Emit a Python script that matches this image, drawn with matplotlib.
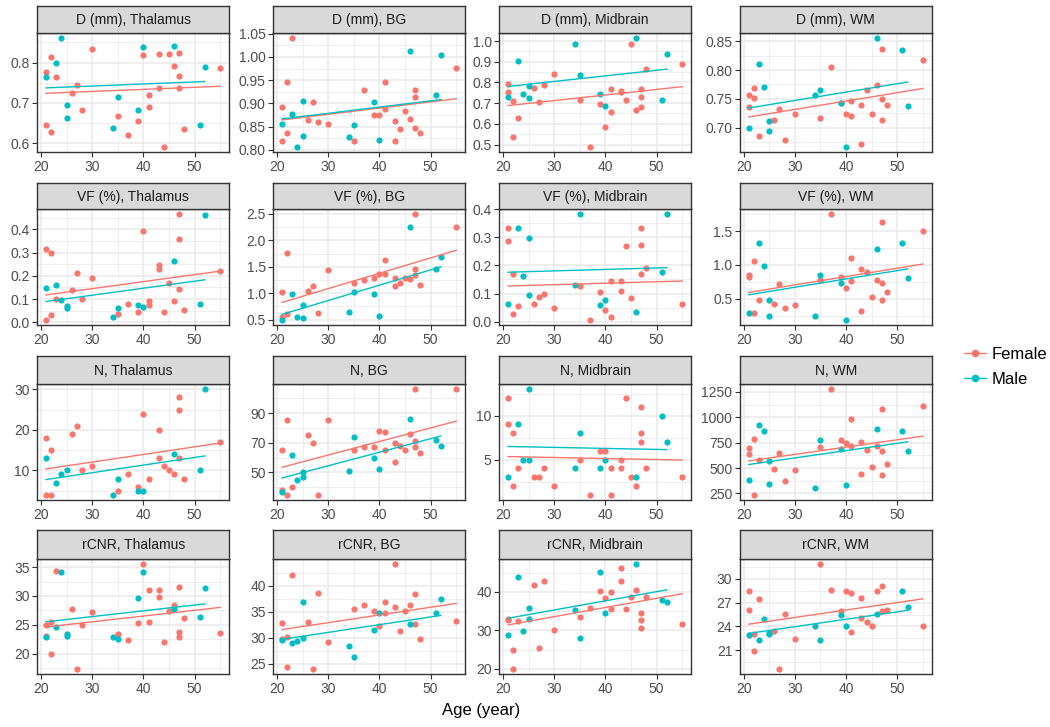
import numpy as np
import matplotlib
matplotlib.use("Agg")
import matplotlib.pyplot as plt
from matplotlib.lines import Line2D

plt.rcParams['font.family'] = ['Liberation Sans', 'DejaVu Sans']

FEMALE_AGE = [21, 21, 22, 22, 23, 26, 27, 28, 30, 35, 37, 39, 40, 41, 41, 43, 43, 44, 45, 46, 47, 47, 47, 48, 55]
MALE_AGE = [21, 23, 24, 25, 25, 34, 35, 39, 40, 46, 51, 52]
nan = np.nan

MEASURES = ["D (mm)", "VF (%)", "N", "rCNR"]
REGIONS = ["Thalamus", "BG", "Midbrain", "WM"]

# row 1: D (mm)
d_thal_f = [0.777, 0.645, 0.815, 0.627, 0.765, 0.724, 0.745, 0.683, 0.834, 0.668, 0.621, 0.656, 0.818,
            0.721, 0.689, 0.822, 0.738, 0.592, 0.822, 0.792, 0.824, 0.766, 0.736, 0.636, 0.786]
d_thal_m = [0.765, 0.798, 0.860, 0.695, 0.662, 0.639, 0.715, 0.683, 0.839, 0.842, 0.645, 0.789]
d_bg_f = [0.893, 0.820, 0.947, 0.837, 1.040, 0.865, 0.904, 0.861, 0.856, 0.820, 0.928, 0.876, 0.876,
          0.947, 0.887, 0.863, 0.820, 0.845, 0.884, 0.866, 0.928, 0.914, 0.848, 0.837, 0.976]
d_bg_m = [0.856, 0.878, 0.807, 0.906, 0.830, 0.827, 0.853, 0.904, 0.822, 1.012, 0.919, 1.004]
d_mid_f = [0.792, 0.756, 0.711, 0.538, 0.630, 0.772, 0.705, 0.789, 0.843, 0.715, 0.490, 0.698, 0.584,
           0.767, 0.659, 0.760, 0.755, 0.715, 0.984, 0.666, 0.767, 0.731, 0.682, 0.864, 0.889]
d_mid_m = [0.731, 0.905, 0.744, 0.785, 0.726, 0.985, 0.836, 0.744, 0.685, 1.013, 0.715, 0.939]
d_wm_f = [0.757, 0.735, 0.768, 0.751, 0.686, 0.714, 0.732, 0.678, 0.723, 0.717, 0.806, 0.743, 0.723,
          0.747, 0.721, 0.740, 0.672, 0.766, 0.723, 0.774, 0.836, 0.750, 0.714, 0.740, 0.818]
d_wm_m = [0.700, 0.810, 0.770, 0.711, 0.694, 0.757, 0.766, 0.743, 0.667, 0.855, 0.835, 0.738]

# row 2: VF (%)
vf_thal_f = [0.317, 0.011, 0.299, 0.031, 0.099, 0.141, 0.211, 0.099, 0.191, 0.037, 0.077, 0.043, 0.391,
             0.091, 0.073, 0.247, 0.229, 0.043, 0.167, 0.091, 0.467, 0.357, 0.143, 0.053, 0.219]
vf_thal_m = [0.147, 0.161, 0.097, 0.070, 0.061, 0.023, 0.063, 0.073, 0.067, 0.263, 0.077, 0.461]
vf_bg_f = [1.028, 0.557, 1.758, 0.613, nan, 1.047, 1.142, 0.632, 1.431, 1.186, 1.255, 1.280, 1.368,
           1.626, 1.355, 1.292, 1.142, 1.186, 1.292, 1.267, 2.500, 1.456, 1.343, 1.160, 2.242]
vf_bg_m = [0.500, 0.984, 0.544, 0.777, 0.525, 0.638, 1.028, 0.984, 0.569, 2.242, 1.456, 1.689]
vf_mid_f = [0.333, 0.288, 0.168, 0.026, 0.055, 0.064, 0.088, 0.097, 0.047, 0.126, 0.007, 0.105, 0.040,
            0.143, 0.015, 0.143, 0.110, 0.267, 0.085, nan, 0.333, 0.271, 0.168, 0.189, 0.064]
vf_mid_m = [0.064, 0.333, 0.163, 0.296, 0.093, 0.130, 0.383, 0.060, 0.077, 0.035, 0.176, 0.382]
vf_wm_f = [0.845, 0.820, 1.052, 0.293, 0.480, 0.426, 0.722, 0.362, 0.411, 0.771, 1.756, 0.825, 0.653,
           1.106, 0.756, 0.933, 0.323, 0.899, 0.530, 0.776, 1.638, 0.736, 0.480, 0.599, 1.500]
vf_wm_m = [0.293, 1.328, 0.978, 0.480, 0.244, 0.244, 0.845, 0.736, 0.190, 1.239, 1.328, 0.810]

# row 3: N
n_thal_f = [18, 4, 15, 4, nan, 19, 21, 10, 11, 5, 9, 6, 24, 8, nan, 20, 13, 11, 10, 9, 28, 25, 13, 8, 17]
n_thal_m = [13, 7, 9, 10, nan, 4, 8, 5, 5, 14, 10, 30]
n_bg_f = [65, 38, 85, 35, 40, 75, 70, 35, 85, 65, 67, 67, 78, 77, 65, 70, 57, 68, 65, 76, 106, 71, 67, 63, 106]
n_bg_m = [37, 62, 45, 50, 47, 51, 74, 60, 52, 86, 72, 68]
n_mid_f = [12, 9, 8, 2, 4, 3, 3, 4, 2, 5, 1, 6, 6, 4, 1, 5, 4, 12, 3, 2, 11, 8, 7, 4, 3]
n_mid_m = [3, 9, 5, 13, 5, 4, 8, 4, 5, 3, 10, 7]
n_wm_f = [693, 634, 784, 237, 579, 491, 647, 374, 478, 706, 1276, 774, 745,
          980, 722, 761, 442, 680, 514, 722, 1081, 670, 432, 537, 1116]
n_wm_m = [387, 921, 862, 566, 341, 305, 774, 690, 328, 885, 862, 670]

# row 4: rCNR
rcnr_thal_f = [24.9, 23.0, 25.5, 20.0, 34.3, 27.7, 17.4, 25.0, 27.2, 23.4, 22.3, 25.3, 35.5,
               31.1, 25.5, 31.1, 29.8, 22.1, 27.4, 28.5, 31.6, 23.7, 22.9, 26.2, 23.6]
rcnr_thal_m = [22.9, 24.6, 34.1, 23.4, 23.1, 22.9, 22.5, 29.6, 34.1, 27.7, 26.4, 31.4]
rcnr_bg_f = [32.8, 29.8, 30.1, 24.4, 42.1, 33.0, 24.0, 38.5, 29.1, 35.4, 36.3, 35.2, 32.3,
             36.8, 34.7, 44.1, 35.9, 31.2, 35.2, 36.3, 38.3, 32.6, nan, 29.8, 33.2]
rcnr_bg_m = [29.5, 28.9, 29.3, 36.8, 30.0, 28.4, 26.2, 31.4, 34.8, 32.6, 34.8, 37.4]
rcnr_mid_f = [33.0, 32.6, 24.9, 20.0, 32.4, 41.7, 25.5, 42.9, 30.0, 33.6, 35.8, 40.3, 38.5,
              39.9, 35.5, 46.3, 42.9, 35.5, 38.8, 40.5, 34.6, 32.8, 30.6, 38.8, 31.6]
rcnr_mid_m = [28.8, 43.9, 29.8, 35.7, 33.0, 35.4, 27.9, 45.1, 34.6, 47.2, 37.9, 37.3]
rcnr_wm_f = [28.4, 26.1, 23.1, 20.9, 27.4, 23.4, 18.7, 25.6, 22.4, 31.8, 28.6, 25.9, 28.5,
             28.2, 23.3, 27.6, 25.0, 24.5, 24.1, 28.5, 29.1, 25.9, nan, 26.1, 24.1]
rcnr_wm_m = [22.9, 22.3, 24.9, 23.2, 23.1, 24.1, 22.3, 25.5, 24.1, 25.6, 28.4, 26.4]

# y tick labels per panel (row by row)
Y_TICKS = [
    ["0.6", "0.7", "0.8"],
    ["0.80", "0.85", "0.90", "0.95", "1.00", "1.05"],
    ["0.5", "0.6", "0.7", "0.8", "0.9", "1.0"],
    ["0.70", "0.75", "0.80", "0.85"],
    ["0.0", "0.1", "0.2", "0.3", "0.4"],
    ["0.5", "1.0", "1.5", "2.0", "2.5"],
    ["0.0", "0.1", "0.2", "0.3", "0.4"],
    ["0.5", "1.0", "1.5"],
    ["10", "20", "30"],
    ["50", "70", "90"],
    ["5", "10"],
    ["250", "500", "750", "1000", "1250"],
    ["20", "25", "30", "35"],
    ["25", "30", "35", "40"],
    ["20", "30", "40"],
    ["18", "21", "24", "27", "30"],
]
X_TICKS = [20, 30, 40, 50]

FEMALE_VALUES = [d_thal_f, d_bg_f, d_mid_f, d_wm_f, vf_thal_f, vf_bg_f, vf_mid_f, vf_wm_f,
                 n_thal_f, n_bg_f, n_mid_f, n_wm_f, rcnr_thal_f, rcnr_bg_f, rcnr_mid_f, rcnr_wm_f]
MALE_VALUES = [d_thal_m, d_bg_m, d_mid_m, d_wm_m, vf_thal_m, vf_bg_m, vf_mid_m, vf_wm_m,
               n_thal_m, n_bg_m, n_mid_m, n_wm_m, rcnr_thal_m, rcnr_bg_m, rcnr_mid_m, rcnr_wm_m]

FEMALE_COLOR = "#F8766D"
MALE_COLOR = "#00BFC4"
GRID = "#EBEBEB"
DARK = "#333333"

W, H = 1050, 727
fig = plt.figure(figsize=(W / 100, H / 100), dpi=100)

col_left = [37.3, 273.3, 499.3, 740.0]
col_width = 191.7
strip_top = [6, 183, 356, 530]
strip_bot = [33, 208.5, 384, 559]
panel_bot = [152, 325, 500, 674]


def minor_between(major, lo, hi):
    step = major[1] - major[0]
    vals = [major[0] - step / 2] + [m + step / 2 for m in major]
    return [v for v in vals if lo <= v <= hi]


def sex_age_fit(fvals, mvals):
    # age + sex model: common slope, separate intercepts
    x = np.concatenate([FEMALE_AGE, MALE_AGE]).astype(float)
    y = np.concatenate([fvals, mvals]).astype(float)
    male = np.concatenate([np.zeros(len(FEMALE_AGE)), np.ones(len(MALE_AGE))])
    ok = ~np.isnan(y)
    X = np.column_stack([np.ones(ok.sum()), x[ok], male[ok]])
    coef = np.linalg.lstsq(X, y[ok], rcond=None)[0]
    return coef


def draw_line(ax, ages, vals, b0, b1, color):
    x = np.array(ages, dtype=float)
    ok = ~np.isnan(np.array(vals, dtype=float))
    xs = np.linspace(x[ok].min(), x[ok].max(), 80)
    ax.plot(xs, b0 + b1 * xs, color=color, lw=1.0, zorder=3)


for i in range(16):
    r, c = divmod(i, 4)
    l = col_left[c] / W
    b = 1 - panel_bot[r] / H
    h = (panel_bot[r] - strip_bot[r]) / H
    ax = fig.add_axes([l, b, col_width / W, h])

    ax.scatter(FEMALE_AGE, FEMALE_VALUES[i], s=20, color=FEMALE_COLOR, linewidths=0, zorder=2)
    ax.scatter(MALE_AGE, MALE_VALUES[i], s=20, color=MALE_COLOR, linewidths=0, zorder=2)
    a0, a1, am = sex_age_fit(FEMALE_VALUES[i], MALE_VALUES[i])
    draw_line(ax, FEMALE_AGE, FEMALE_VALUES[i], a0, a1, FEMALE_COLOR)
    draw_line(ax, MALE_AGE, MALE_VALUES[i], a0 + am, a1, MALE_COLOR)

    ax.margins(0.05)
    ax.autoscale_view()
    ylo, yhi = ax.get_ylim()
    xlo, xhi = ax.get_xlim()

    yt = [float(t) for t in Y_TICKS[i]]
    ax.set_yticks(yt)
    ax.set_yticklabels(Y_TICKS[i])
    ax.set_yticks(minor_between(yt, ylo, yhi), minor=True)
    ax.set_xticks(X_TICKS)
    ax.set_xticks(minor_between(X_TICKS, xlo, xhi), minor=True)
    ax.set_xlim(xlo, xhi)
    ax.set_ylim(ylo, yhi)

    ax.grid(which="major", color=GRID, lw=1.2, zorder=0)
    ax.grid(which="minor", color=GRID, lw=0.6, zorder=0)
    ax.set_axisbelow(True)
    ax.tick_params(which="major", length=3.5, width=0.8, color=DARK, labelsize=10,
                   labelcolor="#4D4D4D", pad=2)
    ax.tick_params(which="minor", length=0)
    for sp in ax.spines.values():
        sp.set_color(DARK)
        sp.set_linewidth(1.0)

    # facet strip
    sh = (strip_bot[r] - strip_top[r]) / H
    sax = fig.add_axes([l, 1 - strip_bot[r] / H, col_width / W, sh])
    sax.set_facecolor("#D9D9D9")
    sax.set_xticks([])
    sax.set_yticks([])
    for sp in sax.spines.values():
        sp.set_color(DARK)
        sp.set_linewidth(1.0)
    sax.text(0.5, 0.47, f"{MEASURES[r]}, {REGIONS[c]}", ha="center", va="center",
             fontsize=10, color="#1A1A1A", transform=sax.transAxes)

fig.text(481 / W, 1 - 711 / H, "Age (year)", ha="center", va="center", fontsize=12, color="black")

handles = [
    Line2D([0], [0], color=FEMALE_COLOR, marker="o", markersize=4.5, lw=1.0, label="Female"),
    Line2D([0], [0], color=MALE_COLOR, marker="o", markersize=4.5, lw=1.0, label="Male"),
]
fig.legend(handles=handles, loc="center left", bbox_to_anchor=(951 / W, 1 - 367 / H),
           frameon=False, fontsize=12, handlelength=1.3, handletextpad=0.35, labelspacing=0.6,
           borderpad=0.3)

fig.savefig("out.png", dpi=100)
